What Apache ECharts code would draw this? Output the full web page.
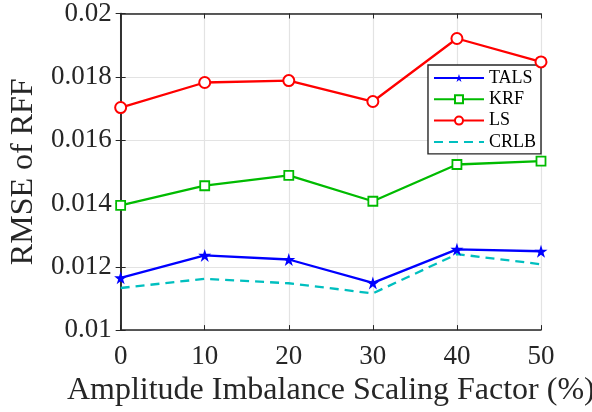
<!DOCTYPE html>
<html>
<head>
<meta charset="utf-8">
<script src="https://cdn.jsdelivr.net/npm/echarts@6/dist/echarts.min.js"></script>
<style>html,body{margin:0;padding:0;background:#fff}#c{width:592px;height:412px}</style>
</head>
<body>
<div id="c"></div>
<script>
const xValues = [0, 10, 20, 30, 40, 50];
const talsValues = [0.01165, 0.01236, 0.01223, 0.01149, 0.01255, 0.01249];
const krfValues = [0.01394, 0.01456, 0.01489, 0.01407, 0.01523, 0.01534];
const lsValues = [0.01703, 0.01782, 0.01788, 0.01722, 0.01921, 0.01847];
const crlbValues = [0.01133, 0.01162, 0.01148, 0.01116, 0.01240, 0.01208];
const xTicks = [0, 10, 20, 30, 40, 50];
const yTicks = [0.01, 0.012, 0.014, 0.016, 0.018, 0.02];

const pair = (vals) => xValues.map((x, i) => [x, vals[i]]);
const FONT = 'Liberation Serif';
const STAR = 'path://M50,0 L61.2,34.5 L97.6,34.5 L68.2,55.9 L79.4,90.5 L50,69.1 L20.6,90.5 L31.8,55.9 L2.4,34.5 L38.8,34.5 Z';
const axisCol = '#262626';
const textCol = '#262626';

const chart = echarts.init(document.getElementById('c'), null, {renderer: 'canvas'});
chart.setOption({
  backgroundColor: '#fff',
  animation: false,
  grid: {left: 108, right: 51, top: 11, bottom: 77},
  legend: {
    orient: 'vertical',
    right: 51, top: 65,
    backgroundColor: '#fff',
    borderColor: axisCol, borderWidth: 1.4,
    padding: [4, 5, 3, 5],
    itemWidth: 50, itemHeight: 10, itemGap: 3.3,
    textStyle: {fontFamily: FONT, fontSize: 18, lineHeight: 18, color: '#000'},
    data: ['TALS', 'KRF', 'LS', {name: 'CRLB', itemStyle: {opacity: 0}}]
  },
  xAxis: [{
    type: 'value', min: 0, max: 50, interval: 10,
    name: 'Amplitude Imbalance Scaling Factor (%)',
    nameLocation: 'middle', nameGap: 39,
    nameTextStyle: {fontFamily: FONT, fontSize: 32, color: textCol},
    axisLine: {show: true, lineStyle: {color: axisCol, width: 1.5}},
    axisTick: {show: true, inside: true, length: 5, lineStyle: {color: axisCol}},
    axisLabel: {fontFamily: FONT, fontSize: 27, color: textCol, margin: 13,
      formatter: v => xTicks.includes(v) ? String(v) : ''},
    splitLine: {show: true, lineStyle: {color: '#e3e3e3', width: 1.2}}
  }, {
    type: 'value', min: 0, max: 50, interval: 10, position: 'top',
    axisLine: {show: true, lineStyle: {color: axisCol, width: 1.5}},
    axisTick: {show: true, inside: true, length: 5, lineStyle: {color: axisCol}},
    axisLabel: {show: false}, splitLine: {show: false}
  }],
  yAxis: [{
    type: 'value', min: 0.01, max: 0.02, interval: 0.002,
    name: 'RMSE of RFF',
    nameLocation: 'middle', nameGap: 79,
    nameTextStyle: {fontFamily: FONT, fontSize: 32, color: textCol},
    axisLine: {show: true, lineStyle: {color: axisCol, width: 1.5}},
    axisTick: {show: true, inside: true, length: 5, lineStyle: {color: axisCol}},
    axisLabel: {fontFamily: FONT, fontSize: 27, color: textCol, margin: 9,
      formatter: v => { const t = yTicks.find(y => Math.abs(y - v) < 1e-9); return t === undefined ? '' : String(t); }},
    splitLine: {show: true, lineStyle: {color: '#e3e3e3', width: 1.2}}
  }, {
    type: 'value', min: 0.01, max: 0.02, interval: 0.002, position: 'right',
    axisLine: {show: true, lineStyle: {color: axisCol, width: 1.5}},
    axisTick: {show: true, inside: true, length: 5, lineStyle: {color: axisCol}},
    axisLabel: {show: false}, splitLine: {show: false}
  }],
  series: [
    {name: 'TALS', type: 'line', data: pair(talsValues), symbol: STAR, symbolSize: 13,
     lineStyle: {color: '#0000ff', width: 2.3}, itemStyle: {color: '#0000ff'}, z: 5},
    {name: 'KRF', type: 'line', data: pair(krfValues), symbol: 'rect', symbolSize: 9,
     lineStyle: {color: '#00bb00', width: 2.3},
     itemStyle: {color: '#fff', borderColor: '#00bb00', borderWidth: 1.8}, z: 4},
    {name: 'LS', type: 'line', data: pair(lsValues), symbol: 'circle', symbolSize: 11,
     lineStyle: {color: '#ff0000', width: 2.3},
     itemStyle: {color: '#fff', borderColor: '#ff0000', borderWidth: 2}, z: 4},
    {name: 'CRLB', type: 'line', data: pair(crlbValues), symbol: 'none',
     lineStyle: {color: '#00bfbf', width: 2.3, type: [9, 6]}, itemStyle: {color: '#00bfbf'}, z: 3}
  ]
});
</script>
</body>
</html>
